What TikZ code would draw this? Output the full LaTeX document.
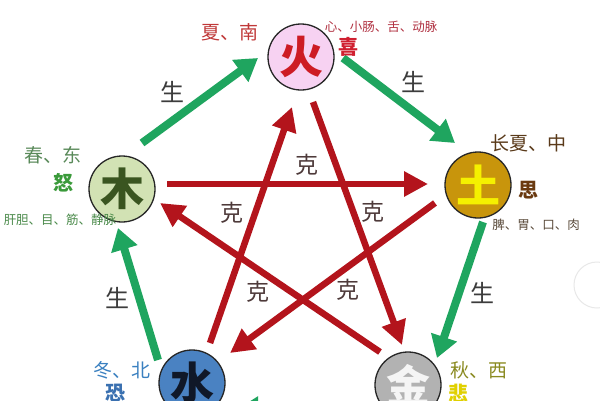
\documentclass[tikz,border=0pt]{standalone}
\usepackage{fontspec}
\newfontfamily\cjk{Noto Sans CJK SC}
\usetikzlibrary{arrows.meta}
\definecolor{shengc}{HTML}{1FA55F}
\definecolor{kec}{HTML}{B3141C}
\definecolor{kelab}{HTML}{4E3A3A}
\definecolor{shlab}{HTML}{3C3C3C}
\definecolor{huofill}{HTML}{F7D2F2}
\definecolor{mufill}{HTML}{D2E2B4}
\definecolor{tufill}{HTML}{C8950C}
\definecolor{shuifill}{HTML}{4A82C2}
\definecolor{jinfill}{HTML}{B2B2B2}
\begin{document}
\begin{tikzpicture}[x=1pt,y=-1pt,
  elem/.style={circle,draw=black!85,line width=1.3pt,minimum size=66pt,inner sep=0pt,
    font=\cjk\bfseries\fontsize{44}{44}\selectfont},
  sheng/.style={draw=shengc,line width=8pt,-{Triangle[width=26pt,length=22pt]}},
  kearrow/.style={draw=kec,line width=6.5pt,-{Triangle[width=24pt,length=24pt]}},
  kelabel/.style={text=kelab,font=\cjk\fontsize{23}{23}\selectfont,inner sep=0pt},
  shlabel/.style={text=shlab,font=\cjk\fontsize{24}{24}\selectfont,inner sep=0pt},
  season/.style={font=\cjk\fontsize{19}{19}\selectfont,inner sep=0pt},
  emotion/.style={font=\cjk\bfseries\fontsize{20}{20}\selectfont,inner sep=0pt},
  organ/.style={font=\cjk\fontsize{12.5}{12.5}\selectfont,inner sep=0pt}]
\clip (0,0) rectangle (600,400);
\fill[white] (0,0) rectangle (600,400);
% faint UI circle at right edge
\draw[black!9,line width=1pt] (597,285) circle (23);

% element circles
\node[elem,fill=huofill,text={rgb,255:red,205;green,28;blue,36}] (huo) at (301,57) {火};
\node[elem,fill=mufill,text={rgb,255:red,58;green,85;blue,32}] (mu) at (122,189) {木};
\node[elem,fill=tufill,text={rgb,255:red,245;green,240;blue,0}] (tu) at (478,185) {土};
\node[elem,fill=shuifill,text={rgb,255:red,16;green,24;blue,40}] (shui) at (192,383) {水};
\node[elem,fill=jinfill,text={rgb,255:red,245;green,245;blue,245}] (jin) at (408,385) {金};

% coordinates for arrow ends
\coordinate (g1a) at (142,143); \coordinate (g1b) at (258,58);
\coordinate (g2a) at (343,58);  \coordinate (g2b) at (455,143);
\coordinate (g3a) at (483,222); \coordinate (g3b) at (437,358);
\coordinate (g4a) at (158,360); \coordinate (g4b) at (118,228);
\coordinate (g5a) at (375,410); \coordinate (g5b) at (236,410);

\coordinate (r1a) at (167,184); \coordinate (r1b) at (428,184);
\coordinate (r2a) at (435,203); \coordinate (r2b) at (230,353);
\coordinate (r3a) at (210,343); \coordinate (r3b) at (292,107);
\coordinate (r4a) at (313,102); \coordinate (r4b) at (402,345);
\coordinate (r5a) at (380,352); \coordinate (r5b) at (160,203);

% sheng (green) arrows
\draw[sheng] (g1a) -- (g1b);
\draw[sheng] (g2a) -- (g2b);
\draw[sheng] (g3a) -- (g3b);
\draw[sheng] (g4a) -- (g4b);
\draw[sheng] (g5a) -- (g5b);

% ke (red) arrows
\draw[kearrow] (r1a) -- (r1b);
\draw[kearrow] (r2a) -- (r2b);
\draw[kearrow] (r3a) -- (r3b);
\draw[kearrow] (r4a) -- (r4b);
\draw[kearrow] (r5a) -- (r5b);

% labels
\node[kelabel] (k1) at (307,165) {克};
\node[kelabel] (k2) at (232,213) {克};
\node[kelabel] (k3) at (373,212) {克};
\node[kelabel] (k4) at (258,292) {克};
\node[kelabel] (k5) at (348,290) {克};

\node[shlabel] (s1) at (172,92) {生};
\node[shlabel] (s2) at (413,82) {生};
\node[shlabel] (s3) at (482,293) {生};
\node[shlabel] (s4) at (117,298) {生};

% fire texts
\node[season,text={rgb,255:red,192;green,56;blue,56}] (t1) at (230,32) {夏、南};
\node[organ,text={rgb,255:red,176;green,48;blue,64}] (t2) at (381,27) {心、小肠、舌、动脉};
\node[emotion,text={rgb,255:red,208;green,32;blue,48}] (t3) at (348,47) {喜};
% wood texts
\node[season,text={rgb,255:red,90;green,138;blue,90}] (t4) at (53,155) {春、东};
\node[emotion,text={rgb,255:red,58;green,154;blue,58}] (t5) at (63,183) {怒};
\node[organ,text={rgb,255:red,74;green,138;blue,74}] (t6) at (60,220) {肝胆、目、筋、静脉};
% earth texts
\node[season,text={rgb,255:red,90;green,58;blue,26}] (t7) at (528,143) {长夏、中};
\node[emotion,text={rgb,255:red,106;green,58;blue,16}] (t8) at (528,190) {思};
\node[organ,text={rgb,255:red,90;green,74;blue,58}] (t9) at (536,225) {脾、胃、口、肉};
% water texts
\node[season,text={rgb,255:red,58;green,128;blue,192}] (t10) at (122,370) {冬、北};
\node[emotion,text={rgb,255:red,58;green,112;blue,176}] (t11) at (115,393) {恐};
% metal texts
\node[season,text={rgb,255:red,138;green,138;blue,32}] (t12) at (479,370) {秋、西};
\node[emotion,text={rgb,255:red,224;green,208;blue,0}] (t13) at (458,393) {悲};
\end{tikzpicture}
\end{document}
